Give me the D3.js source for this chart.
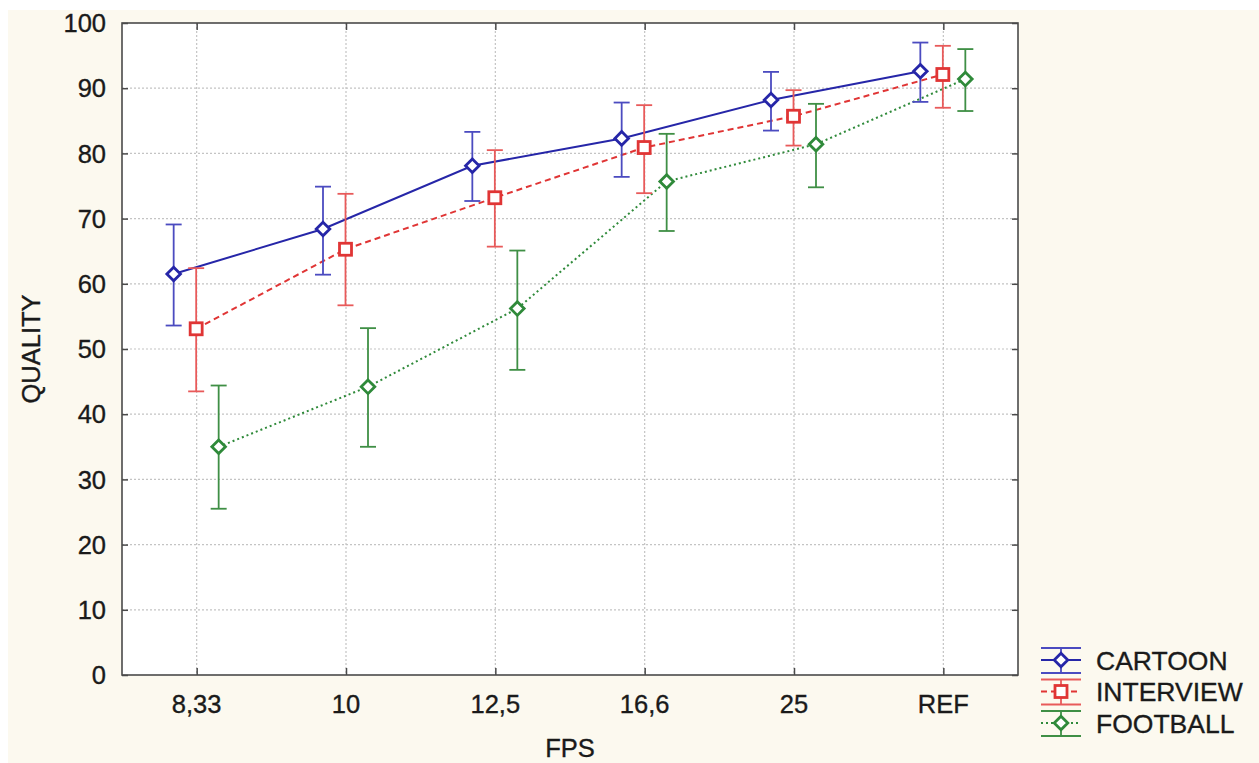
<!DOCTYPE html>
<html>
<head>
<meta charset="utf-8">
<script src="https://cdn.jsdelivr.net/npm/d3@7"></script>
<style>
  html, body { margin: 0; padding: 0; background: #ffffff; }
  svg { display: block; }
  text { font-family: "Liberation Sans", Arial, sans-serif; fill: #1a1a1a; stroke: #1a1a1a; stroke-width: 0.35px; }
</style>
</head>
<body>
<svg id="chart" width="1259" height="763"></svg>
<script>
const categories = ["8,33", "10", "12,5", "16,6", "25", "REF"];
const seriesNames = ["CARTOON", "INTERVIEW", "FOOTBALL"];
const yTicks = [0, 10, 20, 30, 40, 50, 60, 70, 80, 90, 100];

const cartoonMean = [61.5, 68.4, 78.1, 82.3, 88.2, 92.6];
const cartoonLow  = [53.6, 61.4, 72.7, 76.4, 83.5, 87.9];
const cartoonHigh = [69.1, 74.9, 83.3, 87.8, 92.5, 97.0];

const interviewMean = [53.1, 65.3, 73.2, 80.9, 85.7, 92.1];
const interviewLow  = [43.5, 56.7, 65.7, 73.9, 81.2, 87.0];
const interviewHigh = [62.4, 73.8, 80.5, 87.4, 89.7, 96.5];

const footballMean = [35.0, 44.2, 56.2, 75.7, 81.4, 91.4];
const footballLow  = [25.5, 35.0, 46.8, 68.1, 74.8, 86.5];
const footballHigh = [44.4, 53.2, 65.1, 83.0, 87.6, 96.0];

const series = [
  { name: "CARTOON", mean: cartoonMean, low: cartoonLow, high: cartoonHigh,
    line: "#2626a8", bar: "#4b4bc0", marker: "diamond", dash: null },
  { name: "INTERVIEW", mean: interviewMean, low: interviewLow, high: interviewHigh,
    line: "#e03535", bar: "#e85a5a", marker: "square", dash: "6,4" },
  { name: "FOOTBALL", mean: footballMean, low: footballLow, high: footballHigh,
    line: "#2f8a3a", bar: "#3f8f45", marker: "diamond", dash: "2,3" }
];

(function () {
const svg = d3.select("#chart");
const W = 1259, H = 763;
const pLeft = 122, pRight = 1018, pTop = 23, pBottom = 675;

// background
svg.append("rect").attr("x", 0).attr("y", 0).attr("width", W).attr("height", H).attr("fill", "#ffffff");
svg.append("rect").attr("x", 8).attr("y", 10).attr("width", W - 8).attr("height", H - 10).attr("fill", "#fcf9ef");
svg.append("rect").attr("x", pLeft).attr("y", pTop).attr("width", pRight - pLeft).attr("height", pBottom - pTop).attr("fill", "#ffffff");

const x = d3.scalePoint().domain(categories).range([pLeft, pRight]).padding(0.5);
const off = d3.scalePoint().domain(seriesNames).range([-23, 22]);
const y = d3.scaleLinear().domain([0, 100]).range([pBottom, pTop]);

// grid
const grid = svg.append("g");
grid.selectAll("line.h").data(yTicks.filter(t => t > 0 && t < 100)).enter().append("line")
  .attr("x1", pLeft).attr("x2", pRight).attr("y1", d => y(d)).attr("y2", d => y(d))
  .attr("stroke", "#c4c4c4").attr("stroke-width", 1.2).attr("stroke-dasharray", "2,2");
grid.selectAll("line.v").data(categories).enter().append("line")
  .attr("x1", d => x(d)).attr("x2", d => x(d)).attr("y1", pTop).attr("y2", pBottom)
  .attr("stroke", "#c4c4c4").attr("stroke-width", 1.2).attr("stroke-dasharray", "2,2");

// axes (ticks inward)
const axisColor = "#4a4a4a";
const gL = svg.append("g").attr("transform", `translate(${pLeft},0)`)
  .call(d3.axisRight(y).tickValues(yTicks).tickSize(6).tickFormat(""));
const gR = svg.append("g").attr("transform", `translate(${pRight},0)`)
  .call(d3.axisLeft(y).tickValues(yTicks).tickSize(6).tickFormat(""));
const gB = svg.append("g").attr("transform", `translate(0,${pBottom})`)
  .call(d3.axisTop(x).tickSize(7).tickFormat(""));
const gT = svg.append("g").attr("transform", `translate(0,${pTop})`)
  .call(d3.axisBottom(x).tickSize(7).tickFormat(""));
[gL, gR, gB, gT].forEach(g => {
  g.select(".domain").remove();
  g.selectAll("line").attr("stroke", axisColor).attr("stroke-width", 1.5);
});

// tick labels
svg.append("g").selectAll("text").data(yTicks).enter().append("text")
  .attr("x", 106).attr("y", d => y(d)).attr("dy", "0.36em")
  .attr("text-anchor", "end").attr("font-size", 25.5).text(d => d);
svg.append("g").selectAll("text").data(categories).enter().append("text")
  .attr("x", d => x(d)).attr("y", 713)
  .attr("text-anchor", "middle").attr("font-size", 25.5).text(d => d);

// axis titles
svg.append("text").attr("x", (pLeft + pRight) / 2).attr("y", 757)
  .attr("text-anchor", "middle").attr("font-size", 25.5).text("FPS");
svg.append("text").attr("transform", `translate(40,${(pTop + pBottom) / 2}) rotate(-90)`)
  .attr("text-anchor", "middle").attr("font-size", 25.5).text("QUALITY");

// frame
svg.append("rect").attr("x", pLeft).attr("y", pTop).attr("width", pRight - pLeft).attr("height", pBottom - pTop)
  .attr("fill", "none").attr("stroke", axisColor).attr("stroke-width", 1.6);

function drawMarker(g, type, cx, cy, color) {
  if (type === "diamond") {
    const r = 6.8;
    g.append("path")
      .attr("d", `M${cx},${cy - r}L${cx + r},${cy}L${cx},${cy + r}L${cx - r},${cy}Z`)
      .attr("fill", "#ffffff").attr("stroke", color).attr("stroke-width", 2.8);
  } else {
    const s = 12;
    g.append("rect").attr("x", cx - s / 2).attr("y", cy - s / 2).attr("width", s).attr("height", s)
      .attr("fill", "#ffffff").attr("stroke", color).attr("stroke-width", 2.8);
  }
}

const plot = svg.append("g");
const px = (s, i) => x(categories[i]) + off(s.name);

// connecting lines
series.forEach(s => {
  const line = d3.line().x((d, i) => px(s, i)).y(d => y(d));
  plot.append("path").attr("d", line(s.mean)).attr("fill", "none")
    .attr("stroke", s.line).attr("stroke-width", 2)
    .attr("stroke-dasharray", s.dash);
});

// error bars and markers
series.forEach(s => {
  const g = plot.append("g");
  s.mean.forEach((m, i) => {
    const cx = px(s, i);
    g.append("line").attr("x1", cx).attr("x2", cx).attr("y1", y(s.high[i])).attr("y2", y(s.low[i]))
      .attr("stroke", s.bar).attr("stroke-width", 1.8);
    [s.high[i], s.low[i]].forEach(v => {
      g.append("line").attr("x1", cx - 8).attr("x2", cx + 8).attr("y1", y(v)).attr("y2", y(v))
        .attr("stroke", s.bar).attr("stroke-width", 1.8);
    });
  });
  s.mean.forEach((m, i) => drawMarker(g, s.marker, px(s, i), y(m), s.line));
});

// legend
const legendY = d3.scalePoint().domain(seriesNames).range([660, 723]);
series.forEach(s => {
  const g = svg.append("g");
  const cy = legendY(s.name);
  const x1 = 1041, x2 = 1081, cx = 1061;
  g.append("line").attr("x1", x1).attr("x2", x2).attr("y1", cy - 12).attr("y2", cy - 12)
    .attr("stroke", s.bar).attr("stroke-width", 1.8);
  g.append("line").attr("x1", x1).attr("x2", x2).attr("y1", cy + 13).attr("y2", cy + 13)
    .attr("stroke", s.bar).attr("stroke-width", 1.8);
  g.append("line").attr("x1", cx).attr("x2", cx).attr("y1", cy - 12).attr("y2", cy + 13)
    .attr("stroke", s.bar).attr("stroke-width", 1.8);
  g.append("line").attr("x1", x1).attr("x2", x2).attr("y1", cy).attr("y2", cy)
    .attr("stroke", s.line).attr("stroke-width", 2).attr("stroke-dasharray", s.dash);
  drawMarker(g, s.marker, cx, cy, s.line);
  g.append("text").attr("x", 1096).attr("y", cy).attr("dy", "0.36em")
    .attr("font-size", 26.5).text(s.name);
});
})();
</script>
</body>
</html>
